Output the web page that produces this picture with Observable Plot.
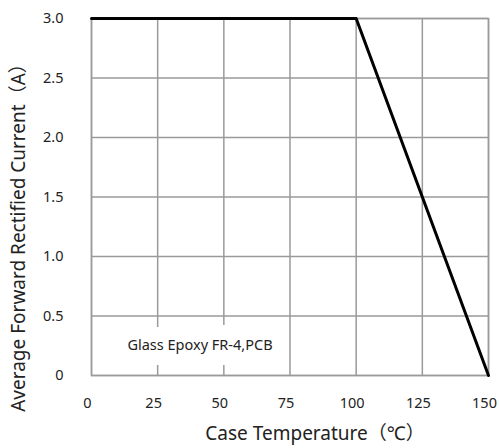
<!DOCTYPE html>
<html><head><meta charset="utf-8">
<script src="https://cdn.jsdelivr.net/npm/d3@7"></script>
<script src="https://cdn.jsdelivr.net/npm/@observablehq/plot@0.6"></script>
<style>body{margin:0;background:#fff} svg{overflow:visible}</style>
</head><body><div id="chart"></div>
<script>
const temps = [0, 100, 150];
const currents = [3.0, 3.0, 0];
const xTicks = [0, 25, 50, 75, 100, 125, 150];
const yTicks = [0, 0.5, 1.0, 1.5, 2.0, 2.5, 3.0];
const yTickLabels = ["0", "0.5", "1.0", "1.5", "2.0", "2.5", "3.0"];
const xLabel = ["Case Temperature（℃）"];
const yLabel = ["Average Forward Rectified Current（A）"];
const noteText = ["Glass Epoxy FR-4,PCB"];
const noteX = [41];
const noteY = [0.25];

const data = temps.map((t, i) => ({t, c: currents[i]}));
const notes = noteText.map((s, i) => ({x: noteX[i], y: noteY[i], s}));
const font = "'Noto Sans', 'Noto Sans CJK SC', sans-serif";

const chart = Plot.plot({
  width: 499, height: 448,
  marginLeft: 91, marginRight: 11, marginTop: 18, marginBottom: 73,
  style: {fontFamily: font, fontSize: "14px", color: "#222", background: "#fff", overflow: "visible"},
  x: {domain: [0, 150], label: null},
  y: {domain: [0, 3], label: null},
  marks: [
    Plot.gridX(xTicks, {stroke: "#9a9a9a", strokeOpacity: 1, strokeWidth: 1.5}),
    Plot.gridY(yTicks, {stroke: "#9a9a9a", strokeOpacity: 1, strokeWidth: 1.5}),
    Plot.frame({stroke: "#9a9a9a", strokeWidth: 1.5}),
    Plot.text(notes, {x: "x", y: "y", text: "s", fontSize: 14.5, fill: "#222",
      stroke: "white", strokeWidth: 30, strokeLinejoin: "round"}),
    Plot.line(data, {x: "t", y: "c", stroke: "#000", strokeWidth: 3}),
    Plot.axisX(xTicks, {tickSize: 0, tickPadding: 22, fontSize: 14.5, dx: -4, label: null}),
    Plot.axisY(yTicks, {tickSize: 0, tickPadding: 28, fontSize: 14.5, label: null,
      tickFormat: (d) => yTickLabels[yTicks.indexOf(d)]}),
    Plot.text(xLabel, {frameAnchor: "bottom", textAnchor: "middle", dx: 25, dy: 64,
      fontSize: 19, fill: "#222"}),
    Plot.text(yLabel, {frameAnchor: "left", textAnchor: "middle", dx: -73, dy: 36,
      rotate: -90, fontSize: 19, fill: "#222"})
  ]
});
document.getElementById("chart").append(chart);
</script></body></html>
